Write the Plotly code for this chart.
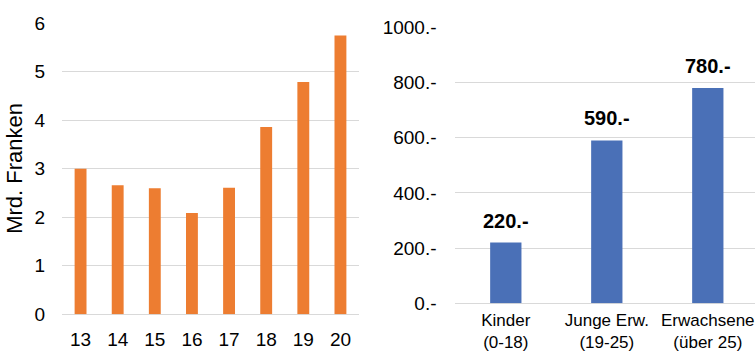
import plotly.graph_objects as go

# Left chart data
years = ["13", "14", "15", "16", "17", "18", "19", "20"]
mrd_franken = [3.0, 2.66, 2.60, 2.09, 2.61, 3.86, 4.79, 5.75]
left_ticks = [0, 1, 2, 3, 4, 5, 6]

# Right chart data
groups = ["Kinder<br>(0-18)", "Junge Erw.<br>(19-25)", "Erwachsene<br>(über 25)"]
amounts = [220, 590, 780]
amount_labels = ["220.-", "590.-", "780.-"]
right_tickvals = [0, 200, 400, 600, 800, 1000]
right_ticktext = ["0.-", "200.-", "400.-", "600.-", "800.-", "1000.-"]

W, H = 755, 353
FONT = "Liberation Sans, Arial, sans-serif"
GRID = "#D9D9D9"

def px_x(p):
    return p / W

def px_y(p):
    return (H - p) / H

fig = go.Figure()
fig.add_trace(go.Bar(x=years, y=mrd_franken, marker=dict(color="#ED7D31", line=dict(width=0)),
                     xaxis="x", yaxis="y", showlegend=False, hoverinfo="skip"))
fig.add_trace(go.Bar(x=groups, y=amounts, marker=dict(color="#4A70B7", line=dict(width=0)),
                     xaxis="x2", yaxis="y2", showlegend=False, hoverinfo="skip", width=0.31))

annotations = []
for g, v, t in zip(groups, amounts, amount_labels):
    annotations.append(dict(x=g, y=v, xref="x2", yref="y2", text=t, showarrow=False,
                            yanchor="bottom", yshift=9,
                            font=dict(family=FONT, size=20, color="#000000", weight="bold")))
annotations.append(dict(x=px_x(15), y=px_y(168.8), xref="paper", yref="paper",
                        text="Mrd. Franken", textangle=-90, showarrow=False,
                        xanchor="center", yanchor="middle",
                        font=dict(family=FONT, size=22, color="#000000")))

fig.update_layout(
    width=W, height=H,
    margin=dict(l=0, r=0, t=0, b=0, autoexpand=False),
    paper_bgcolor="white", plot_bgcolor="white",
    bargap=0.68,
    font=dict(family=FONT, color="#000000"),
    xaxis=dict(domain=[px_x(62), px_x(359)], anchor="y", showgrid=False, automargin=False,
               showline=False, zeroline=False,
               ticks="outside", ticklen=8, tickcolor="rgba(0,0,0,0)",
               tickfont=dict(family=FONT, size=19, color="#000000")),
    yaxis=dict(domain=[px_y(314.3), px_y(23.3)], anchor="x", range=[0, 6], automargin=False,
               tickvals=left_ticks, showgrid=True, gridcolor=GRID, gridwidth=1,
               zeroline=True, zerolinecolor=GRID, zerolinewidth=1, showline=False,
               ticks="outside", ticklen=12, tickcolor="rgba(0,0,0,0)",
               tickfont=dict(family=FONT, size=19, color="#000000")),
    xaxis2=dict(domain=[px_x(455.3), 1], anchor="y2", showgrid=False, automargin=False,
                range=[-0.5, 2.5 - 3.3 / 101],
                showline=False, zeroline=False,
                ticks="outside", ticklen=1, tickcolor="rgba(0,0,0,0)",
                tickfont=dict(family=FONT, size=17, color="#000000")),
    yaxis2=dict(domain=[px_y(303.3), px_y(27.3)], anchor="x2", range=[0, 1000], automargin=False,
                tickvals=right_tickvals, ticktext=right_ticktext,
                showgrid=True, gridcolor=GRID, gridwidth=1,
                zeroline=True, zerolinecolor=GRID, zerolinewidth=1, showline=False,
                ticks="outside", ticklen=14, tickcolor="rgba(0,0,0,0)",
                tickfont=dict(family=FONT, size=19, color="#000000")),
    annotations=annotations,
)

fig.write_html("out.html")
